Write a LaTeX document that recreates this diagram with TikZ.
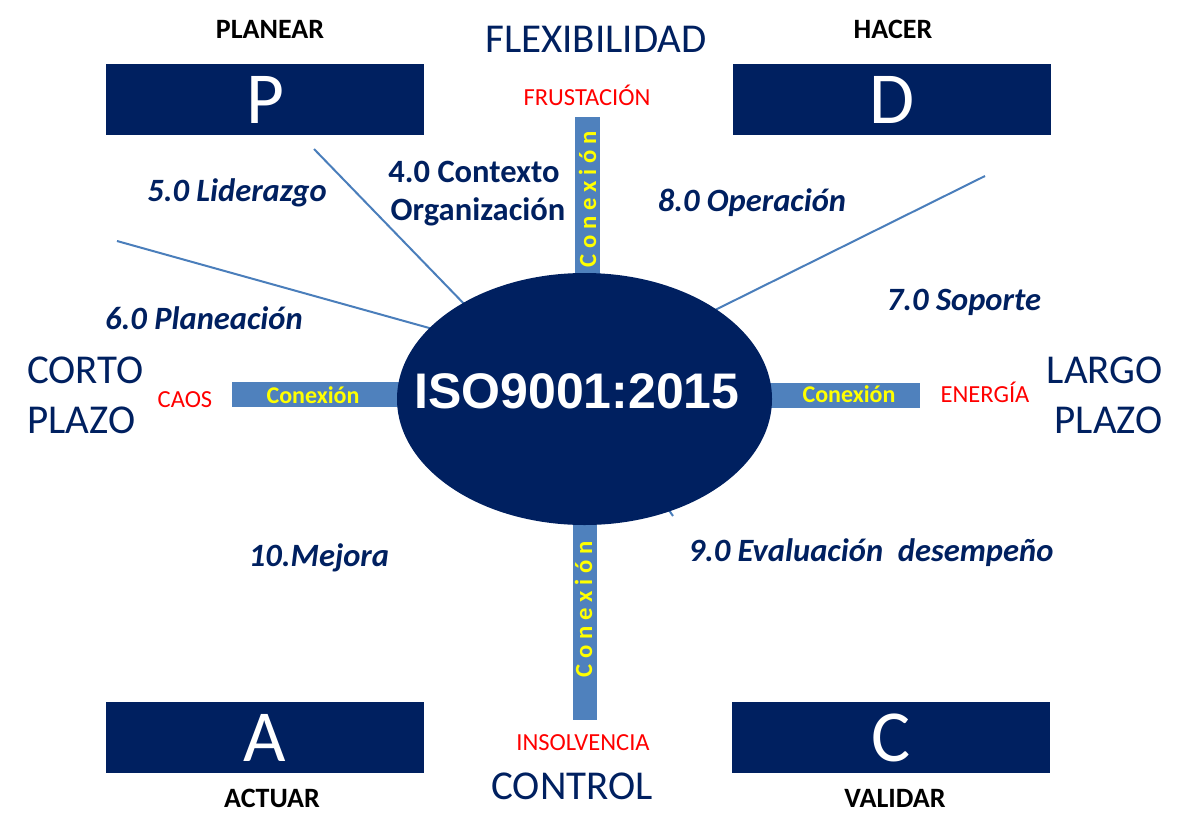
\documentclass[tikz,border=0pt]{standalone}
\usepackage{fontspec}
\setmainfont{Carlito}
\newfontfamily\isofont{Liberation Sans}
\usetikzlibrary{shapes.geometric}
\definecolor{navy}{HTML}{002060}
\definecolor{barblue}{HTML}{4F81BD}
\definecolor{lineblue}{HTML}{4A7EBB}
\definecolor{myred}{HTML}{FF0000}
\definecolor{myyellow}{HTML}{FFFF00}
\def\lsp{\kern4.4pt}
\newcommand\vconex{C\lsp o\lsp n\lsp e\lsp x\lsp i\lsp ó\lsp n}
\begin{document}
\begin{tikzpicture}[x=0.75pt,y=-0.75pt,
  pdcabox/.style={fill=navy, draw=none, inner sep=0pt, minimum width=238.5pt, minimum height=53.25pt,
     text=white, font=\fontsize{55}{60}\selectfont},
  phase/.style={inner sep=0pt, anchor=base, text=black, font=\bfseries\fontsize{21}{25}\selectfont},
  bigword/.style={inner sep=0pt, anchor=base, text=navy, font=\fontsize{30.75}{36}\selectfont},
  redword/.style={inner sep=0pt, anchor=base, text=myred, font=\fontsize{18.4}{22}\selectfont},
  clause/.style={inner sep=0pt, anchor=base, text=navy, font=\bfseries\itshape\fontsize{24.4}{29}\selectfont},
  clauseup/.style={inner sep=0pt, anchor=base, text=navy, font=\bfseries\fontsize{24.4}{29}\selectfont},
  conex/.style={inner sep=0pt, anchor=base, text=myyellow, font=\bfseries\fontsize{18}{22}\selectfont},
  vconexst/.style={inner sep=0pt, anchor=base west, rotate=90, text=myyellow, font=\bfseries\fontsize{18.5}{22}\selectfont},
  barshape/.style={fill=barblue, draw=none, inner sep=0pt},
  spoke/.style={draw=lineblue, line width=1.5pt}
]
\useasboundingbox (0,0) rectangle (1188,836);

% spokes
\coordinate (s1a) at (314,149); \coordinate (s1b) at (470,310);
\coordinate (s2a) at (117,241); \coordinate (s2b) at (440,331);
\coordinate (s3a) at (985,176); \coordinate (s3b) at (705,315);
\coordinate (s4a) at (655,490); \coordinate (s4b) at (673,516);
\draw[spoke] (s1a) -- (s1b);
\draw[spoke] (s2a) -- (s2b);
\draw[spoke] (s3a) -- (s3b);
\draw[spoke] (s4a) -- (s4b);

% bars
\node[barshape, minimum width=18.75pt, minimum height=138pt] (bartop) at (587.5,209) {};
\node[barshape, minimum width=18pt, minimum height=180pt] (barbot) at (585,600) {};
\node[barshape, minimum width=141pt, minimum height=18.75pt] (barleft) at (326,394.5) {};
\node[barshape, minimum width=127.5pt, minimum height=18.75pt] (barright) at (835,395.5) {};

% central ellipse
\node[ellipse, fill=navy, draw=none, inner sep=0pt, minimum width=281.25pt, minimum height=189pt] (iso) at (584.5,399) {};
\node[inner sep=0pt, anchor=base, text=white, font=\isofont\bfseries\fontsize{37.5}{42}\selectfont] (isotxt) at (577,408) {ISO9001:2015};

% PDCA boxes
\node[pdcabox] (P) at (265,99.5) {P};
\node[pdcabox] (D) at (892,99.5) {D};
\node[pdcabox] (A) at (265,737.5) {A};
\node[pdcabox] (C) at (891,737.5) {C};

% phase words
\node[phase] (planear) at (270,38) {PLANEAR};
\node[phase] (hacer) at (893,38) {HACER};
\node[phase] (actuar) at (272,807) {ACTUAR};
\node[phase] (validar) at (895,807) {VALIDAR};

% big words
\node[bigword] (flex) at (596,52) {FLEXIBILIDAD};
\node[bigword] (control) at (572,799) {CONTROL};
\node[bigword, anchor=base west] (corto) at (27,383) {CORTO};
\node[bigword, anchor=base west] (plazoL) at (27,433) {PLAZO};
\node[bigword, anchor=base east] (largo) at (1163,383) {LARGO};
\node[bigword, anchor=base east] (plazoR) at (1163,433) {PLAZO};

% red words
\node[redword] (frus) at (587,105) {FRUSTACIÓN};
\node[redword] (caos) at (185,407) {CAOS};
\node[redword] (energia) at (985,402) {ENERGÍA};
\node[redword] (insol) at (583,750) {INSOLVENCIA};

% clauses
\node[clauseup] (ctx1) at (474,182) {4.0 Contexto};
\node[clauseup] (ctx2) at (478,220) {Organización};
\node[clause] (lid) at (237,201) {5.0 Liderazgo};
\node[clause] (ope) at (752,211) {8.0 Operación};
\node[clause] (sop) at (964,310) {7.0 Soporte};
\node[clause] (pla) at (204,329) {6.0 Planeación};
\node[clause] (mej) at (319,566) {10.Mejora};
\node[clause] (eva) at (871,561) {9.0 Evaluación\ \ desempeño};

% conexion labels
\node[conex] (cxL) at (313,403) {Conexión};
\node[conex] (cxR) at (849,402) {Conexión};
\node[vconexst] (cxT) at (596,268) {\vconex};
\node[vconexst] (cxB) at (592,678) {\vconex};
\end{tikzpicture}
\end{document}
